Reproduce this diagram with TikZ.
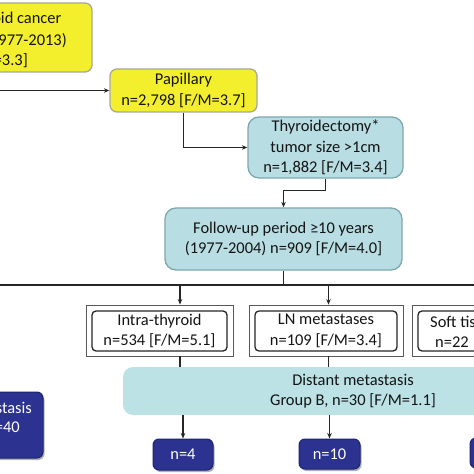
\documentclass[tikz,border=0pt]{standalone}
\usepackage{fontspec}
\setmainfont{Carlito}
\usetikzlibrary{arrows.meta,shadows}
\definecolor{yel}{HTML}{F4EF2C}
\definecolor{yelbd}{HTML}{A8A8A0}
\definecolor{lblue}{HTML}{B8DEE3}
\definecolor{lbluebd}{HTML}{7EA8B0}
\definecolor{lblue2}{HTML}{BCE2E6}
\definecolor{dblue}{HTML}{2B3290}
\definecolor{dbluebd}{HTML}{1E246E}
\definecolor{txt}{HTML}{141414}
\begin{document}
\begin{tikzpicture}[x=1bp,y=-1bp,
  every node/.style={font=\fontsize{16.5}{20.5}\selectfont, text=txt, inner sep=0pt, align=center},
  yelbox/.style={draw=yelbd, line width=1.3bp, fill=yel, rounded corners=7bp},
  lbluebox/.style={draw=lbluebd, line width=1.3bp, fill=lblue, rounded corners=11bp},
  distbox/.style={fill=lblue2, rounded corners=10bp},
  outerbox/.style={draw=black!65, line width=0.8bp, fill=white},
  innerbox/.style={draw=black!85, line width=1.3bp, rounded corners=4bp},
  darkbox/.style={fill=dblue, draw=dbluebd, line width=1bp, rounded corners=6bp, text=white,
    drop shadow={shadow xshift=1.5bp, shadow yshift=-2bp, fill=black, opacity=0.3}},
  conn/.style={draw=black!85, line width=1.1bp},
  arr/.style={conn, -{Stealth[length=5.5bp,width=4.5bp]}}
]
\path[use as bounding box, clip] (0,0) rectangle (474,474);
\fill[white] (0,0) rectangle (474,474);

% top box
\node[yelbox, minimum width=152bp, minimum height=69bp] (cancer) at (16,37.5) {};
\node[anchor=base east] (c1) at (61.5,24) {Thyroid cancer};
\node[anchor=base east] (c2) at (67,46) {(1977-2013)};
\node[anchor=base east] (c3) at (28,66) {[F/M=3.3]};

\node[yelbox, minimum width=147bp, minimum height=43bp] (pap) at (183.5,90.5) {Papillary\\n=2,798 [F/M=3.7]};
\coordinate (inL) at (0,90.5);
\draw[arr] (inL) -- (pap.west);

\node[lbluebox, minimum width=155bp, minimum height=61bp] (thy) at (325.5,147.5) {Thyroidectomy*\\tumor size >1cm\\n=1,882 [F/M=3.4]};
\draw[arr] (pap.south) |- (thy.west);

\node[lbluebox, minimum width=237bp, minimum height=62bp] (fol) at (283.5,239) {Follow-up period ≥10 years\\(1977-2004) n=909 [F/M=4.0]};
\draw[arr] (thy.south) -- ++(0,12) -| (fol.north);

% bus
\coordinate (busL) at (0,285);
\coordinate (busR) at (474,285);
\draw[conn] (busL) -- (busR);
\draw[conn] (fol.south) -- (fol.south |- busL);

% intra-thyroid
\node[outerbox, minimum width=147bp, minimum height=51bp] (intraO) at (159.5,330.5) {};
\node[innerbox, minimum width=135bp, minimum height=40bp] (intra) at (159.5,331) {Intra-thyroid\\n=534 [F/M=5.1]};
\coordinate (ia) at ([xshift=20.5bp]intraO.north);
\draw[arr] (ia |- busL) -- (ia);

% LN
\node[outerbox, minimum width=154bp, minimum height=51bp] (lnO) at (326,330.5) {};
\node[innerbox, minimum width=142bp, minimum height=40bp] (ln) at (326,331) {LN metastases\\n=109 [F/M=3.4]};
\coordinate (la) at ([xshift=2.5bp]lnO.north);
\draw[arr] (la |- busL) -- (la);

% soft tissue
\node[outerbox, minimum width=154bp, minimum height=51bp] (softO) at (489,330.5) {};
\node[innerbox, minimum width=142bp, minimum height=40bp] (soft) at (489,331) {};
\node[anchor=base west] (soft1) at (430,327.5) {Soft tissue};
\node[anchor=base west] (soft2) at (435,347) {n=22};

% distant metastasis
\node[distbox, minimum width=460bp, minimum height=48bp] (dist) at (353,391) {Distant metastasis\\Group B, n=30 [F/M=1.1]};
\draw[conn] (ia |- intraO.south) -- (ia |- dist.north);
\draw[conn] (la |- lnO.south) -- (la |- dist.north);

% dark boxes
\node[darkbox, minimum width=60bp, minimum height=31bp] (n4) at (183,454.5) {n=4};
\draw[arr] (n4.north |- dist.south) -- (n4.north);
\node[darkbox, minimum width=61bp, minimum height=30bp] (n10) at (329.5,454) {n=10};
\draw[arr] (n10.north |- dist.south) -- (n10.north);
\node[darkbox, minimum width=60bp, minimum height=30bp] (nR) at (500,453) {};

\node[darkbox, minimum width=130bp, minimum height=66bp] (m40) at (-22,425) {};
\node[anchor=base east, text=white] (m40a) at (32,413.5) {metastasis};
\node[anchor=base east, text=white] (m40b) at (20,432.5) {n=40};
\end{tikzpicture}
\end{document}
